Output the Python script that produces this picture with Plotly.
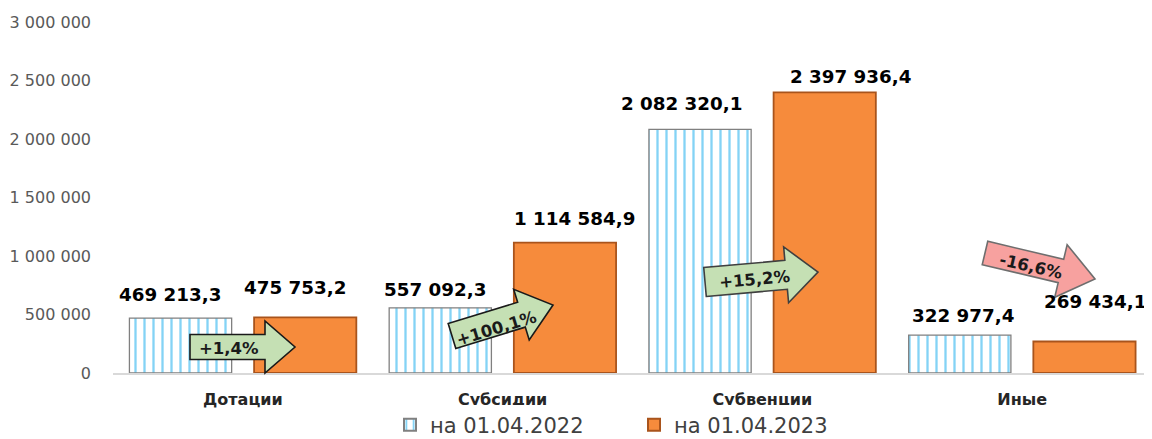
import plotly.graph_objects as go

# ---------------- data ----------------
categories = ["Дотации", "Субсидии", "Субвенции", "Иные"]
series_names = ["на 01.04.2022", "на 01.04.2023"]
values_2022 = [469213.3, 557092.3, 2082320.1, 322977.4]
values_2023 = [475753.2, 1114584.9, 2397936.4, 269434.1]
y_tick_values = [0, 500000, 1000000, 1500000, 2000000, 2500000, 3000000]
y_tick_labels = ["0", "500 000", "1 000 000", "1 500 000", "2 000 000", "2 500 000", "3 000 000"]

# ---------------- layout constants ----------------
W, H = 1152, 439
OFF = 8  # page body margin of the html page
ML, MT = 113 - OFF, 22 - OFF
PW, PH = 1039, 351
MR = W - ML - PW
MB = H - MT - PH
Y_MAX = 3000000

BLUE = "#0AA8EC"
ORANGE = "#F68B3C"
GREEN = "#C5E0B4"
PINK = "#F7A19F"
FONT = "DejaVu Sans"


def fmt_num(v):
    return f"{v:,.1f}".replace(",", " ").replace(".", ",")


def fmt_pct(a, b):
    p = (b / a - 1) * 100
    s = f"{p:+.1f}".replace(".", ",")
    return s + "%"


fig = go.Figure()
fig.add_trace(go.Bar(
    x=categories, y=values_2022, name=series_names[0],
    marker=dict(color="#FFFFFF",
                pattern=dict(shape="|", fgcolor=BLUE, bgcolor="#FFFFFF", size=9, solidity=0.26),
                line=dict(color="#808080", width=1.3)),
    hoverinfo="skip",
))
fig.add_trace(go.Bar(
    x=categories, y=values_2023, name=series_names[1],
    marker=dict(color=ORANGE, line=dict(color="#A9541C", width=1.8)),
    hoverinfo="skip",
))

# value label offsets (pixels) relative to bar centre / bar top
bar_off = 62.4
label_dx_2022 = [-10, -5, -18, 3]
label_dy_2022 = [24, 18, 26, 20]
label_dx_2023 = [-10, 9, 26, 10]
label_dy_2023 = [30, 24, 16, 40]

annotations = []
for i, c in enumerate(categories):
    annotations.append(dict(
        x=c, y=values_2022[i], xref="x", yref="y", text=fmt_num(values_2022[i]),
        showarrow=False, xshift=-bar_off + label_dx_2022[i], yshift=label_dy_2022[i],
        yanchor="middle", font=dict(family=FONT, size=18.3, color="#000000", weight="bold")))
    annotations.append(dict(
        x=c, y=values_2023[i], xref="x", yref="y", text=fmt_num(values_2023[i]),
        showarrow=False, xshift=bar_off + label_dx_2023[i], yshift=label_dy_2023[i],
        yanchor="middle", font=dict(family=FONT, size=18.3, color="#000000", weight="bold")))


# ---------------- change arrows ----------------
def px2paper(x, y):
    # x, y are page pixels (as seen in the screenshot)
    return (x - OFF - ML) / PW, (MT + PH - (y - OFF)) / PH


# tail(x,y), tip(x,y), body half, head half, head length, text centre, text angle, fill, outline
arrow_specs = [
    ((190, 347), (295, 347), 12.5, 26, 30, (229, 348), 0, GREEN, "#1A1A1A"),
    ((452, 336), (553, 305), 13, 26.5, 33, (496, 328), -17, GREEN, "#1A1A1A"),
    ((705, 282), (818, 272), 14.5, 28, 32, (755, 279), -5, GREEN, "#404040"),
    ((985, 253), (1095, 279), 12, 27, 35, (1031, 266), 13, PINK, "#6E6E6E"),
]
shapes = []
for i, (tail, tip, b, h, hl, tc, ang, fill, edge) in enumerate(arrow_specs):
    dx, dy = tip[0] - tail[0], tip[1] - tail[1]
    L = (dx * dx + dy * dy) ** 0.5
    ux, uy = dx / L, dy / L
    nx, ny = -uy, ux
    bx, by = tip[0] - ux * hl, tip[1] - uy * hl
    pts = [
        (tail[0] + nx * b, tail[1] + ny * b),
        (bx + nx * b, by + ny * b),
        (bx + nx * h, by + ny * h),
        tip,
        (bx - nx * h, by - ny * h),
        (bx - nx * b, by - ny * b),
        (tail[0] - nx * b, tail[1] - ny * b),
    ]
    pp = [px2paper(*p) for p in pts]
    path = "M " + " L ".join(f"{x:.5f},{y:.5f}" for x, y in pp) + " Z"
    shapes.append(dict(type="path", xref="paper", yref="paper", path=path,
                       fillcolor=fill, line=dict(color=edge, width=1.6), layer="above"))
    tx, ty = px2paper(*tc)
    annotations.append(dict(
        x=tx, y=ty, xref="paper", yref="paper", showarrow=False,
        text=fmt_pct(values_2022[i], values_2023[i]), textangle=ang,
        xanchor="center", yanchor="middle",
        font=dict(family=FONT, size=16.5, color="#1A1A1A", weight="bold")))

fig.update_layout(
    width=W, height=H,
    margin=dict(l=ML, r=MR, t=MT, b=MB, autoexpand=False),
    paper_bgcolor="#FFFFFF", plot_bgcolor="#FFFFFF",
    barmode="group", bargap=0.04, bargroupgap=0.18,
    showlegend=True,
    legend=dict(orientation="h", xref="container", yref="container",
                x=(634 - OFF) / W, y=1 - (425 - OFF) / H, xanchor="center", yanchor="middle",
                font=dict(family=FONT, size=21, color="#404040"),
                entrywidth=199, itemsizing="constant", traceorder="normal"),
    xaxis=dict(range=[-0.5, 3.5], showgrid=False, showline=True, linecolor="#D9D9D9",
               linewidth=1.5, ticks="", ticklabelstandoff=11, automargin=False,
               tickfont=dict(family=FONT, size=16, color="#262626", weight="bold"),
               fixedrange=True),
    yaxis=dict(range=[0, Y_MAX], showgrid=False, showline=False, zeroline=False,
               tickvals=y_tick_values, ticktext=y_tick_labels, ticks="",
               ticklabelstandoff=21, automargin=False,
               tickfont=dict(family=FONT, size=16, color="#595959"),
               fixedrange=True),
    shapes=shapes,
    annotations=annotations,
)

fig.write_html("out.html")
